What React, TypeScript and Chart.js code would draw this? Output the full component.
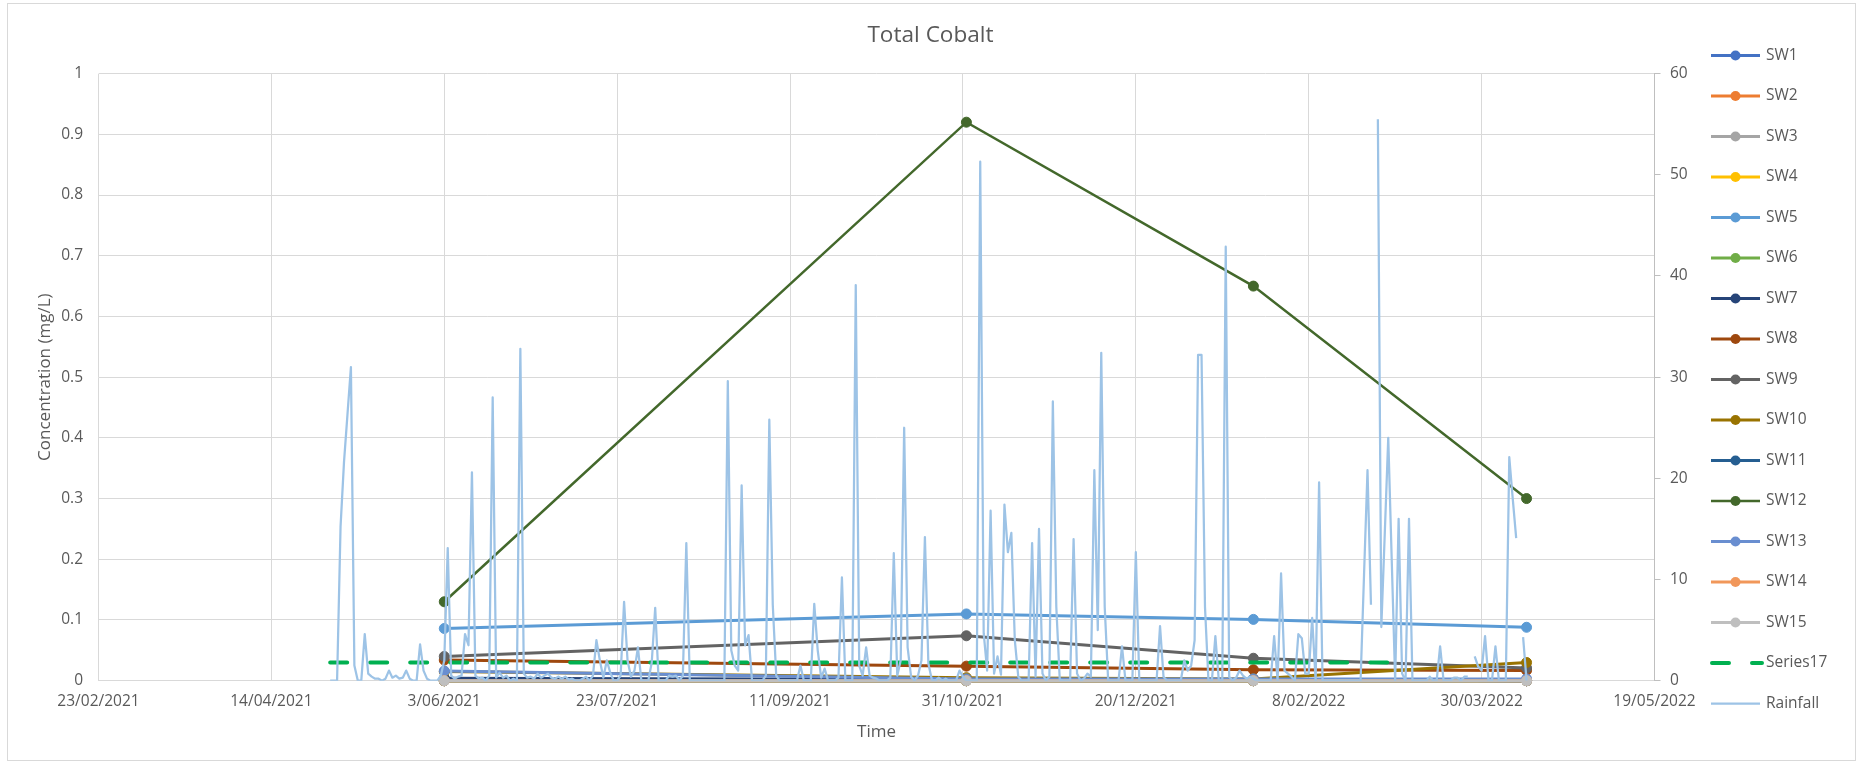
import { useEffect, useRef } from "react";
import { Chart, registerables } from "chart.js";

Chart.register(...registerables);

const W = 1861;
const H = 763;
const FONT = "'Open Sans', sans-serif";
const TEXT = "#595959";

// ---------- data ----------
const seriesNames = ["SW1", "SW2", "SW3", "SW4", "SW5", "SW6", "SW7", "SW8", "SW9", "SW10", "SW11", "SW12", "SW13", "SW14", "SW15"];
const seriesColors = ["#4472C4", "#ED7D31", "#A5A5A5", "#FFC000", "#5B9BD5", "#70AD47", "#264478", "#9E480E", "#636363", "#997300", "#255E91", "#43682B", "#698ED0", "#F1975A", "#BFBFBF"];

// Excel serial dates of the four sampling rounds
const sampleDates = [44350, 44501, 44584, 44663];

const sw1 = [0, 0, 0, 0];
const sw2 = [0, 0, 0, 0];
const sw3 = [0, 0, 0, 0];
const sw4 = [0, 0, 0, 0];
const sw5 = [0.086, 0.11, 0.101, 0.088];
const sw6 = [0, 0, 0, 0];
const sw7 = [0.004, 0.002, 0.002, 0];
const sw8 = [0.034, 0.024, 0.018, 0.017];
const sw9 = [0.04, 0.074, 0.037, 0.021];
const sw10 = [0.015, 0.005, 0.003, 0.03];
const sw11 = [0, 0, 0, 0];
const sw12 = [0.13, 0.92, 0.65, 0.3];
const sw13 = [0.016, 0.003, 0.003, 0.003];
const sw14 = [0, 0, 0, 0];
const sw15 = [0, 0, 0, 0];
const swValues = [sw1, sw2, sw3, sw4, sw5, sw6, sw7, sw8, sw9, sw10, sw11, sw12, sw13, sw14, sw15];

// Series17: guideline value
const series17Dates = [44317, 44623];
const series17Values = [0.03, 0.03];

// Rainfall (mm), daily from 1/05/2021 (Excel serial 44317)
const rainStart = 44317;
const rainfall: (number | null)[] = [
  0, 0, 0, 15.2, 21.6, 26.3, 31.0, 1.5, 0, 0,
  4.6, 0.7, 0.4, 0.2, 0.2, 0, 0.2, 1.0, 0.3, 0.5,
  0.2, 0.3, 1.0, 0.2, 0, 0, 3.6, 1.0, 0.2, 0,
  0, 0, 0.5, 2.0, 13.1, 0.5, 0.2, 0.4, 0.5, 4.6,
  3.5, 20.6, 0.5, 0.2, 0.3, 0, 0.5, 28.0, 0.3, 0.8,
  0.3, 0.5, 0, 0.2, 0, 32.8, 0.7, 0.3, 0.4, 0.2,
  0.7, 0.3, 0.5, 0.7, 0.3, 0.2, 0.4, 0.2, 0.4, 0.1,
  0.2, 0, 0, 0.2, 0.4, 0, 0.5, 4.0, 2.0, 0.3,
  2.0, 0.8, 0, 0, 0.5, 7.8, 2.0, 0.4, 1.0, 3.3,
  0, 0, 0, 1.8, 7.2, 0, 0, 0, 0.5, 0.4,
  0.5, 0, 0.5, 13.6, 0, 0, 0, 0, 0, 0,
  0, 0, 0, 0, 0, 29.6, 3.0, 1.5, 1.0, 19.3,
  3.5, 4.5, 0, 0, 0, 0, 0.5, 25.8, 7.5, 0.5,
  0, 0, 0, 0, 0, 0, 1.5, 0, 0, 0,
  7.6, 3.0, 0.3, 1.2, 0, 0, 0, 0.3, 10.2, 0,
  0, 0, 39.1, 1.5, 0.5, 3.3, 0.5, 0.3, 0.2, 0,
  0, 0, 0.3, 12.6, 0.5, 2.0, 25.0, 3.3, 0.4, 0,
  0.5, 2.0, 14.2, 1.7, 0.1, 0, 0.3, 0, 0.2, 0,
  0, 0, 1.0, 0.4, 0, 0, 0, 0, 51.3, 4.7,
  1.0, 16.8, 0.7, 2.4, 0.6, 17.4, 12.7, 14.6, 4.0, 0.4,
  0, 0, 0, 13.6, 0.4, 15.0, 0.7, 0, 0.4, 27.6,
  7.3, 0.1, 0, 0, 0, 14.0, 0.7, 0, 0.2, 0.7,
  0.4, 20.8, 5.0, 32.4, 7.3, 0, 0, 0, 0, 3.4,
  0, 0, 0, 12.7, 0, 0, 0, 0, 0, 0,
  5.4, 0.4, 0, 0, 0, 0, 0, 2.0, 1.0, 1.5,
  4.0, 32.2, 32.2, 7.3, 0, 0, 4.4, 0, 0, 42.9,
  0.4, 0, 0.3, 1.0, 0.5, 0.2, 0.4, 0.2, 0, 0,
  0, 0, 0, 4.4, 0, 10.6, 1.0, 0.7, 0.4, 0,
  4.6, 4.2, 0.7, 0.7, 6.2, 0, 19.6, 0, 0, 0,
  0, 0, 0, 0, 0, 0, 0, 0, 0, 10.5,
  20.8, 7.5, null, 55.5, 5.3, 14.6, 24.0, 12.0, 0, 16.0,
  0.7, 0, 16.0, 0, 0, 0, 0, 0, 0.4, 0,
  0, 3.4, 0, 0, 0, 0.3, 0.3, 0, 0.4, 0.4,
  null, 2.4, 1.4, 1.0, 4.4, 0, 0, 3.4, 0, 0,
  0, 22.1, 18.0, 14.1, null, 4.3, 0,
];

// axis ranges (Excel serial dates)
const xMin = 44250; // 23/02/2021
const xMax = 44700; // 19/05/2022
const xStep = 50;

function serialToLabel(v: number): string {
  const d = new Date(Math.round((v - 25569) * 86400000));
  return `${d.getUTCDate()}/${String(d.getUTCMonth() + 1).padStart(2, "0")}/${d.getUTCFullYear()}`;
}

// ---------- plugins ----------
const backgroundPlugin = {
  id: "bgBorder",
  beforeDraw(chart: any) {
    const ctx = chart.ctx;
    ctx.save();
    ctx.fillStyle = "#ffffff";
    ctx.fillRect(0, 0, chart.width, chart.height);
    ctx.strokeStyle = "#D9D9D9";
    ctx.lineWidth = 1;
    ctx.strokeRect(7.5, 3.5, 1848, 757);
    ctx.restore();
  },
};

const legendPlugin = {
  id: "excelLegend",
  afterDraw(chart: any) {
    const ctx = chart.ctx;
    ctx.save();
    chart.data.datasets.forEach((ds: any, i: number) => {
      const y = 55.5 + i * 40.5;
      ctx.strokeStyle = ds.borderColor;
      ctx.lineWidth = ds.borderWidth;
      if (ds.borderDash) {
        ctx.setLineDash(ds.borderDash);
        ctx.lineCap = "round";
        ctx.beginPath();
        ctx.moveTo(1712, y);
        ctx.lineTo(1762, y);
        ctx.stroke();
      } else {
        ctx.setLineDash([]);
        ctx.lineCap = "butt";
        ctx.beginPath();
        ctx.moveTo(1711, y);
        ctx.lineTo(1760, y);
        ctx.stroke();
      }
      ctx.setLineDash([]);
      if (ds.pointRadius > 0) {
        ctx.fillStyle = ds.borderColor;
        ctx.beginPath();
        ctx.arc(1735.5, y, 5, 0, Math.PI * 2);
        ctx.fill();
      }
      ctx.fillStyle = TEXT;
      ctx.font = `15.5px ${FONT}`;
      ctx.textAlign = "left";
      ctx.textBaseline = "middle";
      ctx.fillText(ds.label, 1766, y);
    });
    ctx.restore();
  },
};

export default function App() {
  const ref = useRef<HTMLCanvasElement | null>(null);

  useEffect(() => {
    document.body.style.margin = "0";
    document.body.style.overflow = "hidden";
    if (!ref.current) return;

    const n = seriesNames.length + 2;
    const datasets: any[] = seriesNames.map((name, i) => ({
      label: name,
      data: sampleDates.map((d, k) => ({ x: d, y: swValues[i][k] })),
      borderColor: seriesColors[i],
      backgroundColor: seriesColors[i],
      pointBackgroundColor: seriesColors[i],
      pointBorderColor: seriesColors[i],
      borderWidth: name === "SW12" ? 2.5 : 3,
      pointRadius: 5,
      pointBorderWidth: 1,
      tension: 0,
      clip: false,
      yAxisID: "y",
      order: n - i,
    }));
    datasets.push({
      label: "Series17",
      data: series17Dates.map((d, k) => ({ x: d, y: series17Values[k] })),
      borderColor: "#00B050",
      backgroundColor: "#00B050",
      borderWidth: 4,
      borderDash: [17, 23],
      borderCapStyle: "round",
      pointRadius: 0,
      clip: false,
      yAxisID: "y",
      order: 2,
    });
    datasets.push({
      label: "Rainfall",
      data: rainfall.map((v, i) => ({ x: rainStart + i, y: v })),
      borderColor: "#9DC3E6",
      backgroundColor: "#9DC3E6",
      borderWidth: 2.25,
      borderJoinStyle: "round",
      pointRadius: 0,
      spanGaps: false,
      yAxisID: "y1",
      order: 1,
    });

    Chart.defaults.font.family = FONT;

    const chart = new Chart(ref.current, {
      type: "line",
      data: { datasets },
      options: {
        animation: false,
        responsive: false,
        devicePixelRatio: 1,
        layout: { padding: 0 },
        plugins: {
          legend: { display: false },
          tooltip: { enabled: false },
          title: {
            display: true,
            text: "Total Cobalt",
            color: TEXT,
            font: { family: FONT, size: 22.6, weight: "normal" },
            padding: { top: 22, bottom: 24.5 },
          },
        },
        scales: {
          x: {
            type: "linear",
            min: xMin,
            max: xMax,
            afterFit(scale: any) {
              scale.height = 82.3;
            },
            ticks: {
              stepSize: xStep,
              color: TEXT,
              font: { family: FONT, size: 15.5 },
              padding: 12,
              maxRotation: 0,
              autoSkip: false,
              callback: (v: any) => serialToLabel(Number(v)),
            },
            grid: { color: "#D9D9D9", lineWidth: 1, drawTicks: false },
            border: { display: false },
            title: {
              display: true,
              text: "Time",
              color: TEXT,
              font: { family: FONT, size: 17 },
              padding: { top: 0, bottom: 21.1 },
            },
          },
          y: {
            type: "linear",
            position: "left",
            min: 0,
            max: 1,
            afterFit(scale: any) {
              scale.width = 98.5;
            },
            ticks: {
              stepSize: 0.1,
              color: TEXT,
              font: { family: FONT, size: 15.5 },
              padding: 15.5,
              callback: (v: any) => String(Math.round(Number(v) * 10) / 10),
            },
            grid: { color: "#D9D9D9", lineWidth: 1, drawTicks: false },
            border: { display: false },
            title: {
              display: true,
              text: "Concentration (mg/L)",
              color: TEXT,
              font: { family: FONT, size: 17 },
              padding: { top: 34.8, bottom: 0 },
            },
          },
          y1: {
            type: "linear",
            position: "right",
            min: 0,
            max: 60,
            afterFit(scale: any) {
              scale.width = W - 1654.5;
            },
            ticks: {
              stepSize: 10,
              color: TEXT,
              font: { family: FONT, size: 15.5 },
              padding: 9.5,
            },
            grid: { drawOnChartArea: false, drawTicks: true, tickLength: 6, color: "#BFBFBF" },
            border: { display: true, color: "#BFBFBF" },
          },
        },
      },
      plugins: [backgroundPlugin, legendPlugin],
    } as any);

    return () => chart.destroy();
  }, []);

  return <canvas ref={ref} width={W} height={H} style={{ display: "block" }} />;
}
